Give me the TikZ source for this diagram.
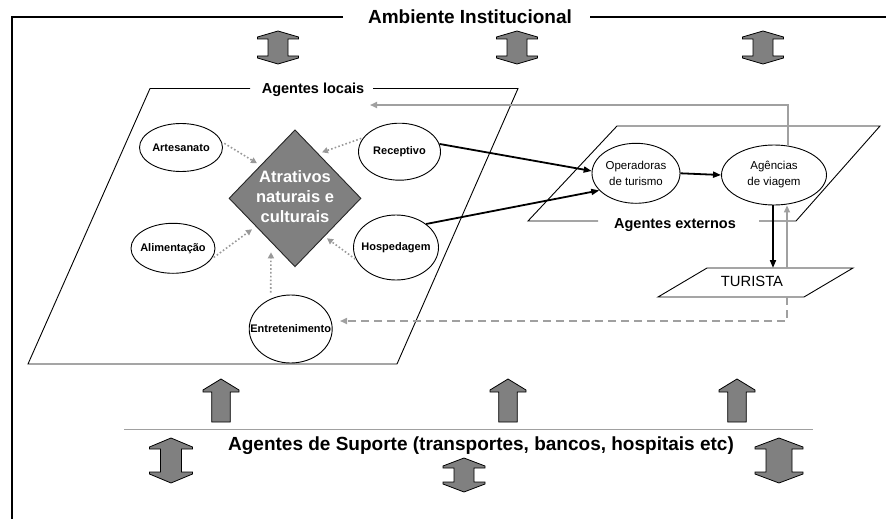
\documentclass[tikz,border=0pt]{standalone}
\usepackage{fontspec}
\setmainfont{Liberation Sans}
\usetikzlibrary{shapes.geometric,arrows.meta,calc}
\definecolor{blockgray}{HTML}{808080}
\definecolor{linegray}{HTML}{A0A0A0}
\definecolor{dotgray}{HTML}{999999}
% double block arrow: x, top, bottom, half head, half shaft, head length
\newcommand{\DArr}[6]{%
  \draw[blockarrow] ({#1},{#2}) -- ({#1+#4},{#2+#6}) -- ({#1+#4},{#2+#6+2}) -- ({#1+#5},{#2+#6+2})
   -- ({#1+#5},{#3-#6-2}) -- ({#1+#4},{#3-#6-2}) -- ({#1+#4},{#3-#6}) -- ({#1},{#3})
   -- ({#1-#4},{#3-#6}) -- ({#1-#4},{#3-#6-2}) -- ({#1-#5},{#3-#6-2}) -- ({#1-#5},{#2+#6+2})
   -- ({#1-#4},{#2+#6+2}) -- ({#1-#4},{#2+#6}) -- cycle;}
% single upward block arrow
\newcommand{\UArr}[6]{%
  \draw[blockarrow] ({#1},{#2}) -- ({#1+#4},{#2+#6}) -- ({#1+#4},{#2+#6+2}) -- ({#1+#5},{#2+#6+2})
   -- ({#1+#5},{#3}) -- ({#1-#5},{#3}) -- ({#1-#5},{#2+#6+2}) -- ({#1-#4},{#2+#6+2})
   -- ({#1-#4},{#2+#6}) -- cycle;}
\newcommand{\zw}[1]{\makebox[0pt]{#1}}
\begin{document}
\begin{tikzpicture}[x=1pt,y=-1pt,
  frame/.style={line width=1.6pt, draw=black},
  para/.style={line width=0.9pt, draw=black},
  ell/.style={ellipse, draw, line width=0.9pt, inner sep=0pt, font=\fontsize{11}{13}\selectfont\bfseries},
  ellr/.style={ellipse, draw, line width=0.9pt, inner sep=0pt, align=center, font=\fontsize{11.5}{16}\selectfont},
  blockarrow/.style={fill=blockgray, draw=black, line width=0.8pt, line join=miter},
  dotarr/.style={draw=dotgray, line width=1.6pt, dash pattern=on 1.6pt off 2.2pt, -{Triangle[length=6pt,width=6pt]}},
  blkarr/.style={draw=black, line width=1.8pt, -{Triangle[length=8pt,width=6pt]}},
  grayarr/.style={draw=linegray, line width=1.6pt, -{Triangle[length=7pt,width=6pt]}},
  dasharr/.style={grayarr, dash pattern=on 8pt off 5pt},
  title/.style={font=\fontsize{19}{22}\selectfont\bfseries, inner sep=0pt, anchor=base},
  sub/.style={font=\fontsize{14.5}{17}\selectfont\bfseries, inner sep=0pt, anchor=base}
]
\useasboundingbox (0,0) rectangle (886,519);

% outer frame
\node[title] (amb) at (470,23.3) {Ambiente Institucional};
\draw[frame] (343,17) -- (12,17) -- (12,519);
\draw[frame] (590,17) -- (886,17);

% top double arrows
\DArr{278}{31}{64}{20.5}{10}{6}
\DArr{517}{31}{64}{20.5}{10}{6}
\DArr{763}{31}{64}{20.5}{10}{6}

% agentes locais
\node[sub] (loc) at (313,93) {Agentes locais};
\draw[para] (250,88.5) -- (150,88.5) -- (28,364) -- (397,364) -- (518,88.5) -- (373,88.5);

% agentes externos
\node[sub] (ext) at (675,228.3) {Agentes externos};
\draw[para] (598,221) -- (528,221) -- (617,126) -- (880,126) -- (796,221) -- (759,221);

% turista
\draw[para] (707,268) -- (853,268) -- (804,297) -- (658,297) -- cycle;
\node[font=\fontsize{14.8}{17}\selectfont, inner sep=0pt, anchor=base] (tur) at (752,286.7) {TURISTA};
\coordinate (tTop) at (773,268);
\coordinate (tup) at (787,268);
\coordinate (tdn) at (787,297);

% diamond
\node[diamond, draw=black!85, line width=0.9pt, fill=blockgray, minimum width=132pt, minimum height=137pt,
      inner sep=0pt, text=white, font=\fontsize{16.5}{20}\selectfont\bfseries] (dia) at (295,198.3)
  {\zw{\raisebox{-6pt}{\begin{tabular}{@{}c@{}}Atrativos\\naturais e\\culturais\end{tabular}}}};

% local agent ellipses
\node[ell, minimum width=83pt, minimum height=48pt] (art) at (181,147.5) {\zw{Artesanato}};
\node[ell, minimum width=82pt, minimum height=57pt] (rec) at (399.5,151.7) {\zw{Receptivo}};
\node[ell, minimum width=84pt, minimum height=50pt] (ali) at (173,248.3) {\zw{Alimentação}};
\node[ell, minimum width=85pt, minimum height=65pt] (hos) at (396,247.5) {\zw{Hospedagem}};
\node[ell, minimum width=83pt, minimum height=68pt] (ent) at (290.7,329) {\zw{Entretenimento}};

% external agents
\node[ellr, minimum width=88pt, minimum height=60pt] (ope) at (636,173.3) {Operadoras\\de turismo};
\node[ellr, minimum width=105pt, minimum height=60pt] (agv) at (774,175) {Agências\\de viagem};

% dotted arrows to the attractions
\draw[dotarr, shorten <=3pt] (art.8) -- ($(dia)+(-38,-35)$);
\draw[dotarr, shorten <=2pt] (rec.159) -- ($(dia)+(27,-46)$);
\draw[dotarr, shorten <=3pt] (ali.-16) -- ($(dia)+(-43,31)$);
\draw[dotarr, shorten <=1pt] (hos.197) -- ($(dia)+(32,40)$);
\draw[dotarr] ($(ent.north)+(-20,-2)$) -- ($(dia)+(-24,54)$);

% black arrows
\draw[blkarr] (rec.11) -- (ope.177);
\draw[blkarr] (hos.38) -- (ope.205);
\draw[blkarr] (ope.east) -- (agv.west);
\draw[blkarr] (agv.south -| tTop) -- (tTop);

% gray feedback arrows
\coordinate (locin) at (370,105);
\coordinate (entin) at (340,321);
\draw[grayarr] (agv.65) |- (locin);
\draw[grayarr] (tup) -- (tup |- agv.south);
\draw[dasharr] (tdn) |- (entin);

% support agents
\draw[draw=linegray, line width=1pt] (124,429) -- (813,429);
\node[title] (sup) at (481,450) {Agentes de Suporte (transportes, bancos, hospitais etc)};
\UArr{221}{379}{422}{18}{9.3}{11}
\UArr{508}{379}{422}{18}{9.3}{11}
\UArr{737}{379}{422}{18}{9.3}{11}
\DArr{171}{438}{483}{21.5}{10.5}{9}
\DArr{464}{458}{492}{21}{10}{8}
\DArr{779}{438}{483}{24}{13}{9}
\end{tikzpicture}
\end{document}
